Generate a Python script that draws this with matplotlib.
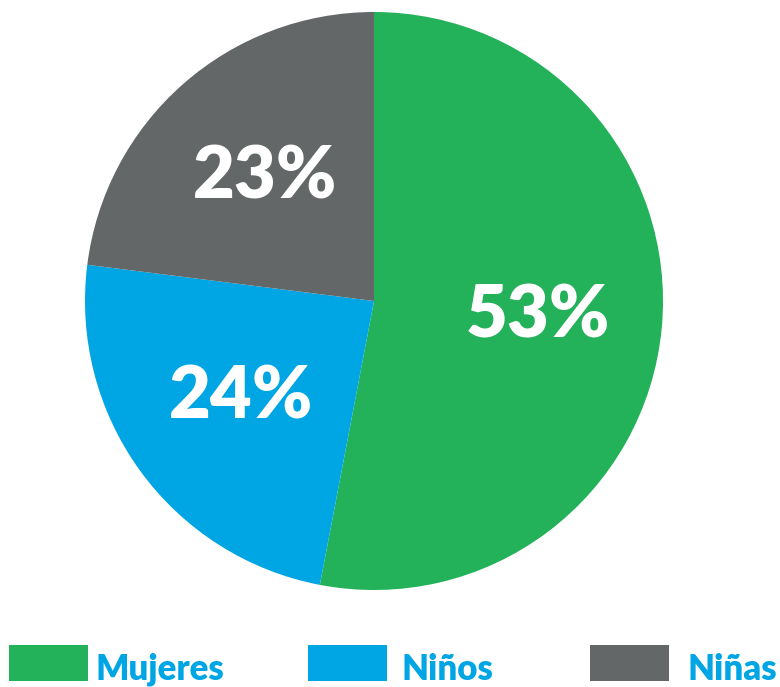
import matplotlib
matplotlib.use("Agg")
import matplotlib.pyplot as plt
from matplotlib.patches import Rectangle

labels = ["Mujeres", "Niños", "Niñas"]
shares = [53, 24, 23]
colors = ["#23b15a", "#00a5e3", "#646768"]
text_blue = "#00a6e4"

W, H = 780, 687
fig = plt.figure(figsize=(W / 100, H / 100), dpi=100)

# pie: centre (374, 301) px, radius 289 px
cx, cy, r = 374, 301, 289
ax = fig.add_axes([(cx - r) / W, (H - cy - r) / H, 2 * r / W, 2 * r / H])
wedges, texts, autotexts = ax.pie(
    shares, colors=colors, startangle=90, counterclock=False,
    autopct=lambda p: "%d%%" % round(p), pctdistance=0.57, radius=1,
    wedgeprops=dict(linewidth=0),
    textprops=dict(color="white", fontsize=52, fontweight="heavy", family=["Lato", "DejaVu Sans"]),
)
ax.set_xlim(-1, 1)
ax.set_ylim(-1, 1)
ax.set_aspect("auto")
ax.axis("off")

# legend row along the bottom
box_x = [9, 308, 590]
text_x = [95, 402, 687]
for lab, col, bx, tx in zip(labels, colors, box_x, text_x):
    fig.add_artist(Rectangle((bx / W, (H - 681) / H), 79 / W, 36 / H,
                             transform=fig.transFigure, color=col, lw=0))
    fig.text(tx / W, (H - 680) / H, lab, color=text_blue, fontsize=25,
             fontweight="heavy", family=["Lato", "DejaVu Sans"], va="baseline", ha="left")

fig.savefig("out.png", dpi=100)
